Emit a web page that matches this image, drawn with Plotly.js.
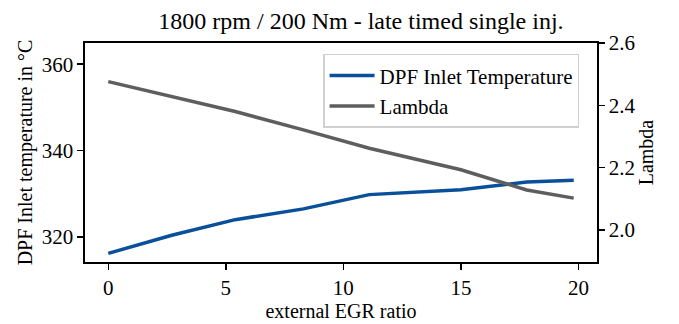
<!DOCTYPE html>
<html>
<head>
<meta charset="utf-8">
<script src="https://cdn.plot.ly/plotly-3.0.1.min.js"></script>
<style>html,body{margin:0;padding:0;background:#fff;}#chart{width:679px;height:324px;}</style>
</head>
<body>
<div id="chart"></div>
<script>
const egrRatio = [0, 2.7, 5.4, 8.3, 11.1, 15.0, 17.8, 19.8];
const dpfInletTemp = [316.2, 320.4, 324.0, 326.5, 329.8, 330.9, 332.7, 333.1];
const lambdaVals = [2.476, 2.428, 2.380, 2.321, 2.262, 2.193, 2.128, 2.102];
const xTicks = [0, 5, 10, 15, 20];
const yTicks = [320, 340, 360];
const y2Ticks = [2.0, 2.2, 2.4, 2.6];

const FONT = "Liberation Serif";

const traces = [
  {x: egrRatio, y: dpfInletTemp, type: 'scatter', mode: 'lines', name: 'DPF Inlet Temperature',
   line: {color: '#0a4f9a', width: 3.5}, yaxis: 'y'},
  {x: egrRatio, y: lambdaVals, type: 'scatter', mode: 'lines', name: 'Lambda',
   line: {color: '#5e5e5e', width: 3.5}, yaxis: 'y2'}
];

function axisBase() {
  return {
    showgrid: false, zeroline: false, showline: true, linecolor: '#000', linewidth: 1.6,
    ticks: 'outside', ticklen: 6, tickwidth: 1.4, tickcolor: '#000',
    tickfont: {family: 'Liberation Serif, Times New Roman, serif', size: 21, color: '#000'}
  };
}

const layout = {
  width: 679, height: 324,
  margin: {l: 85, r: 82, t: 43, b: 62},
  paper_bgcolor: '#fff', plot_bgcolor: '#fff',
  font: {family: FONT, color: '#000'},
  title: {text: '1800 rpm / 200 Nm - late timed single inj.', font: {family: FONT, size: 24, color: '#000'},
          xref: 'paper', x: 0.539, xanchor: 'center', y: 0.935, yanchor: 'middle'},
  showlegend: true,
  legend: {x: 0.465, y: 0.95, xanchor: 'left', yanchor: 'top', bgcolor: '#fff', bordercolor: '#d0d0d0', borderwidth: 1.5,
           font: {family: FONT, size: 21, color: '#000'}, itemwidth: 45, tracegroupgap: 0},
  xaxis: Object.assign(axisBase(), {
    range: [-0.99, 20.79], tickvals: xTicks, ticktext: xTicks.map(String), mirror: true,
    title: {text: 'external EGR ratio', font: {family: FONT, size: 20, color: '#000'}, standoff: 0}
  }),
  yaxis: Object.assign(axisBase(), {
    range: [314.2, 364.9], tickvals: yTicks, ticktext: yTicks.map(String), mirror: true,
    title: {text: 'DPF Inlet temperature in °C', font: {family: FONT, size: 20, color: '#000'}, standoff: 4}
  }),
  yaxis2: Object.assign(axisBase(), {
    overlaying: 'y', side: 'right', range: [1.897, 2.6], tickvals: y2Ticks, ticktext: y2Ticks.map(v => v.toFixed(1)),
    title: {text: 'Lambda', font: {family: FONT, size: 20, color: '#000'}, standoff: 0}
  })
};

Plotly.newPlot('chart', traces, layout, {displayModeBar: false, staticPlot: true});
</script>
</body>
</html>
